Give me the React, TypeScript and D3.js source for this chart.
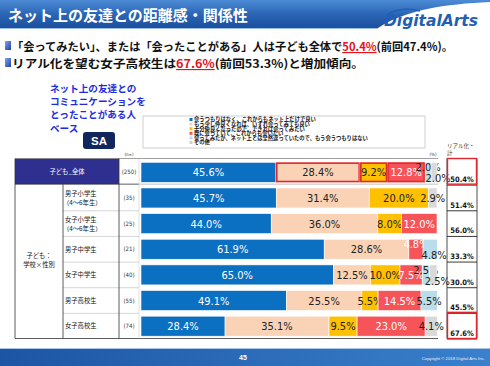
import React from "react";
import * as d3 from "d3";

// rows of the table
const categories = ["子ども_全体", "男子小学生", "女子小学生", "男子中学生", "女子中学生", "男子高校生", "女子高校生"];
const subNotes = ["", "（4～6年生）", "（4～6年生）", "", "", "", ""];
const sampleSizes = [250, 35, 25, 21, 40, 55, 74];

const seriesNames = [
  "会うつもりはなく、これからもネット上だけで良い",
  "もう少し仲良くなれば、いずれ会ってみても良い",
  "十分仲良くなったので、できれば会ってみたい",
  "既に会っていて、これからも会いたい",
  "会ってみたが、ネット上とは全然違っていたので、もう会うつもりはない",
  "その他",
];
const seriesColors = ["#0B6FC2", "#FAD3B6", "#FFC000", "#F65459", "#B9DDEA", "#D9D9D9"];

const notMeeting = [45.6, 45.7, 44.0, 61.9, 65.0, 49.1, 28.4];
const meetIfCloser = [28.4, 31.4, 36.0, 28.6, 12.5, 25.5, 35.1];
const wantToMeet = [9.2, 20.0, 8.0, 0, 10.0, 5.5, 9.5];
const alreadyMet = [12.8, 0, 12.0, 4.8, 7.5, 14.5, 23.0];
const metNoMore = [2.0, 0, 0, 4.8, 2.5, 5.5, 0];
const otherAnswer = [2.0, 2.9, 0, 0, 2.5, 0, 4.1];
const realTotal = [50.4, 51.4, 56.0, 33.3, 30.0, 45.5, 67.6];

const jp = "'Noto Sans CJK JP', sans-serif";
const num = "'Liberation Sans Narrow', 'DejaVu Sans Condensed', 'Liberation Sans', sans-serif";

export default function App() {
  const width = 490;
  const height = 366;

  const keys = ["s0", "s1", "s2", "s3", "s4", "s5"];
  const series = [notMeeting, meetIfCloser, wantToMeet, alreadyMet, metNoMore, otherAnswer];
  const table = categories.map((c, i) => {
    const row: any = { cat: c };
    keys.forEach((k, j) => (row[k] = series[j][i]));
    return row;
  });
  const stacked = d3.stack().keys(keys)(table);

  const x = d3.scaleLinear().domain([0, 100]).range([141, 437]);
  const y = d3.scaleBand().domain(categories).range([159.5, 339]).paddingInner(0.22).paddingOuter(0.11);
  const step = y.step();
  const rowTop = (i: number) => 159.5 + i * step;

  // label placement for tiny neighbouring segments
  const labelPos = (ri: number, si: number) => {
    const vals = series.map((s) => s[ri]);
    const v = vals[si];
    if (v >= 5) return 0;
    let next = -1;
    for (let k = si + 1; k < vals.length; k++) if (vals[k] > 0) { next = k; break; }
    let prev = -1;
    for (let k = si - 1; k >= 0; k--) if (vals[k] > 0) { prev = k; break; }
    if (next >= 0 && vals[next] < 5) return -1;
    if (prev >= 0 && vals[prev] < 5) return 1;
    return 0;
  };

  return (
    <svg width={width} height={height} style={{ position: "absolute", left: 0, top: 0, background: "#fff" }}>
      <defs>
        <linearGradient id="hdr" x1="0" y1="0" x2="0" y2="1">
          <stop offset="0" stopColor="#4C8BD6" />
          <stop offset="0.5" stopColor="#2B66B5" />
          <stop offset="1" stopColor="#1B4E9E" />
        </linearGradient>
        <linearGradient id="ftr" x1="0" y1="0" x2="1" y2="0">
          <stop offset="0" stopColor="#1C55A3" />
          <stop offset="1" stopColor="#3A80CC" />
        </linearGradient>
        <linearGradient id="bul" x1="0" y1="0" x2="1" y2="1">
          <stop offset="0" stopColor="#7FA8E6" />
          <stop offset="1" stopColor="#1E3FA8" />
        </linearGradient>
      </defs>

      {/* header */}
      <path d="M0,0 H490 V2 C445,4 405,10 378,28 H0 Z" fill="url(#hdr)" />
      <line x1={0} x2={378} y1={28.5} y2={28.5} stroke="#9CC0EA" strokeWidth={1} />
      <text x={8} y={21} fill="#fff" fontFamily={jp} fontWeight={700} fontSize={15}>
        ネット上の友達との距離感・関係性
      </text>
      <text x={384} y={26} fill="#1F5FB4" fontFamily="'DejaVu Sans', sans-serif" fontStyle="italic" fontWeight={700} fontSize={16} textLength={94} lengthAdjust="spacingAndGlyphs">
        DigitalArts
      </text>
      <path d="M388,14 C396,9 410,8 420,11" fill="none" stroke="#1F5FB4" strokeWidth={1.4} />

      {/* bullets */}
      <rect x={5} y={41} width={6} height={9} fill="url(#bul)" />
      <text x={12} y={51} fontFamily={jp} fontWeight={700} fontSize={11.5} fill="#111" textLength={441} lengthAdjust="spacingAndGlyphs">
        「会ってみたい」、または「会ったことがある」人は子ども全体で
        <tspan fill="#E8101A" textDecoration="underline">50.4%</tspan>(前回47.4%)。
      </text>
      <rect x={5} y={58} width={6} height={9} fill="url(#bul)" />
      <text x={12} y={68} fontFamily={jp} fontWeight={700} fontSize={11.5} fill="#111" textLength={352} lengthAdjust="spacingAndGlyphs">
        リアル化を望む女子高校生は
        <tspan fill="#E8101A" textDecoration="underline">67.6%</tspan>(前回53.3%)と増加傾向。
      </text>

      {/* base note */}
      {["ネット上の友達との", "コミュニケーションを", "とったことがある人", "ベース"].map((t, i) => (
        <text key={t} x={50} y={92 + i * 13.2} fontFamily={jp} fontWeight={700} fontSize={9.6} fill="#1E2BE0">
          {t}
        </text>
      ))}
      <rect x={83} y={132} width={32} height={17} rx={3} fill="#10265C" />
      <text x={99} y={144.5} textAnchor="middle" fill="#fff" fontFamily="'Liberation Sans', sans-serif" fontWeight={700} fontSize={11.5}>
        SA
      </text>

      {/* legend */}
      <rect x={143} y={116} width={282} height={32} fill="#fff" stroke="#bbb" strokeWidth={0.7} />
      {seriesNames.map((s, i) => (
        <g key={s}>
          <rect x={189.5} y={118 + i * 4.6} width={3} height={3} fill={seriesColors[i] === "#D9D9D9" ? "#D0D0D0" : seriesColors[i]} />
          <text x={194} y={121.4 + i * 4.6} fontFamily={jp} fontWeight={700} fontSize={5.3} fill="#111">
            {s}
          </text>
        </g>
      ))}
      <text x={129} y={156} textAnchor="middle" fontFamily={num} fontSize={4.5} fill="#333">(n=)</text>
      <text x={433} y={156} textAnchor="middle" fontFamily={num} fontSize={4.5} fill="#333">(%)</text>
      <text x={447} y={148} fontFamily={jp} fontSize={5.5} fill="#333">リアル化・</text>
      <text x={447} y={155} fontFamily={jp} fontSize={5.5} fill="#333">計</text>

      {/* table grid */}
      <rect x={15} y={158.5} width={104} height={step} fill="#2E2F8E" />
      <text x={67} y={158.5 + step / 2 + 2.3} textAnchor="middle" fontFamily={jp} fontSize={6.3} fill="#fff">
        {categories[0]}
      </text>
      <line x1={15} x2={438} y1={158.5} y2={158.5} stroke="#888" strokeWidth={0.8} />
      <line x1={15} x2={139} y1={158.5 + step} y2={158.5 + step} stroke="#333" strokeWidth={0.8} />
      <line x1={139} x2={438} y1={158.5 + step} y2={158.5 + step} stroke="#999" strokeWidth={0.6} />
      {categories.slice(1, -1).map((c, i) => (
        <line key={c} x1={63} x2={139} y1={rowTop(i + 2)} y2={rowTop(i + 2)} stroke="#bbb" strokeWidth={0.6} />
      ))}
      <line x1={15} x2={438} y1={338.5} y2={338.5} stroke="#333" strokeWidth={0.8} />
      <line x1={15} x2={15} y1={158.5} y2={338.5} stroke="#333" strokeWidth={0.8} />
      <line x1={63} x2={63} y1={158.5 + step} y2={338.5} stroke="#333" strokeWidth={0.8} />
      <line x1={119} x2={119} y1={158.5} y2={338.5} stroke="#333" strokeWidth={0.8} />
      <line x1={139} x2={139} y1={158.5} y2={338.5} stroke="#ccc" strokeWidth={0.6} />
      <text x={39} y={258} textAnchor="middle" fontFamily={jp} fontSize={6.3} fill="#111">子ども：</text>
      <text x={39} y={267} textAnchor="middle" fontFamily={jp} fontSize={6.3} fill="#111">学校×性別</text>

      {categories.map((c, i) => {
        const cy = (y(c) as number) + y.bandwidth() / 2;
        return (
          <g key={c}>
            {i > 0 &&
              (subNotes[i] ? (
                <>
                  <text x={65} y={cy - 2} fontFamily={jp} fontSize={6.3} fill="#111">{c}</text>
                  <text x={63} y={cy + 7} fontFamily={jp} fontSize={6.3} fill="#111">{subNotes[i]}</text>
                </>
              ) : (
                <text x={65} y={cy + 2.3} fontFamily={jp} fontSize={6.3} fill="#111">{c}</text>
              ))}
            <text x={129} y={cy + 2} textAnchor="middle" fontFamily={num} fontSize={6} fill="#333">
              ({sampleSizes[i]})
            </text>
          </g>
        );
      })}

      {/* bars */}
      {stacked.map((layer, si) =>
        layer.map((d, ri) => {
          const v = d[1] - d[0];
          if (v <= 0) return null;
          const cat = categories[ri];
          const x0 = x(d[0]);
          const x1 = x(d[1]);
          const by = y(cat) as number;
          const bh = y.bandwidth();
          const pos = labelPos(ri, si);
          const cx = (x0 + x1) / 2 + (pos === 1 ? 4 : 0);
          const cy = by + bh / 2 + (pos === -1 ? -5 : pos === 1 ? 6 : 0) + 4;
          const white = si === 0 || si === 3;
          return (
            <g key={`${si}-${ri}`}>
              <rect x={x0} y={by} width={x1 - x0} height={bh} fill={seriesColors[si]} stroke="#fff" strokeWidth={0.6} />
              {ri === 0 && si >= 1 && si <= 3 && (
                <rect x={x0 + 0.8} y={by + 0.8} width={x1 - x0 - 1.6} height={bh - 1.6} fill="none" stroke="#E0262D" strokeWidth={1.6} />
              )}
              <text x={cx} y={cy} textAnchor="middle" fontFamily={num} fontSize={11} fill={white ? "#fff" : "#222"}>
                {d3.format(".1f")(v)}%
              </text>
            </g>
          );
        })
      )}

      {/* real total column */}
      <line x1={447} x2={447} y1={158.5} y2={338.5} stroke="#222" strokeWidth={0.8} />
      <line x1={477} x2={477} y1={158.5} y2={338.5} stroke="#222" strokeWidth={0.8} />
      {categories.map((c, i) => (
        <g key={c}>
          <line x1={447} x2={477} y1={rowTop(i) + step} y2={rowTop(i) + step} stroke="#222" strokeWidth={0.9} />
          <text x={462} y={rowTop(i) + step - 3} textAnchor="middle" fontFamily={num} fontWeight={700} fontSize={7.5} fill="#111">
            {d3.format(".1f")(realTotal[i])}%
          </text>
        </g>
      ))}
      <rect x={447.5} y={158.5} width={29} height={step} fill="none" stroke="#E0262D" strokeWidth={1.4} />
      <rect x={447.5} y={rowTop(6) - 1} width={29} height={step + 0.5} fill="none" stroke="#E0262D" strokeWidth={1.4} />

      {/* footer */}
      <rect x={0} y={348} width={490} height={18} fill="url(#ftr)" />
      <line x1={0} x2={490} y1={348.5} y2={348.5} stroke="#A9C8EC" strokeWidth={1} />
      <text x={243} y={360} textAnchor="middle" fontFamily="'Liberation Sans', sans-serif" fontWeight={700} fontSize={7} fill="#fff">
        45
      </text>
      <text x={485} y={360} textAnchor="end" fontFamily="'Liberation Sans', sans-serif" fontSize={4.3} fill="#e8f0fa">
        Copyright © 2018 Digital Arts Inc.
      </text>
    </svg>
  );
}
